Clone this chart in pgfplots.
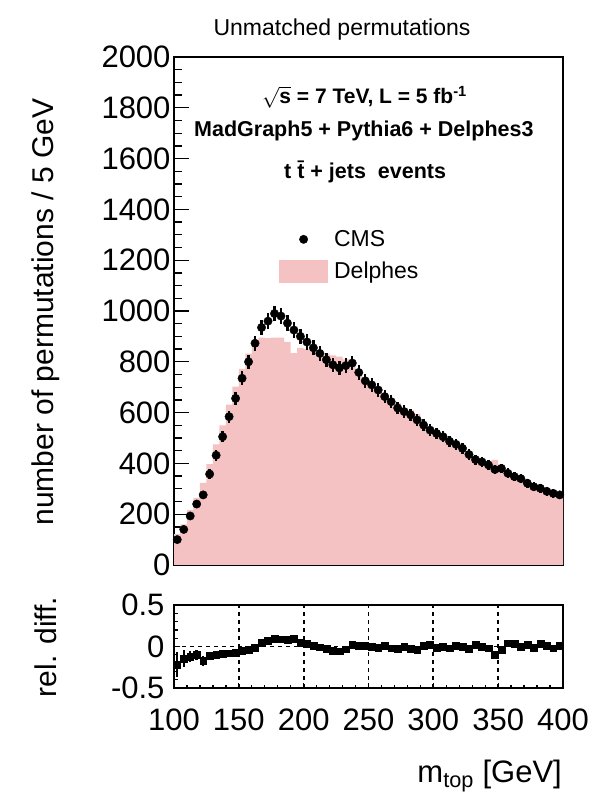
\documentclass[border=0pt]{standalone}
\usepackage{fontspec}
\setmainfont{Liberation Sans}
\usepackage{pgfplots}
\pgfplotsset{compat=1.18}
\usepackage{pgfplotstable}
\definecolor{delphes}{RGB}{244,194,194}

\pgfplotstableread{
x cms err
102.5 100 10
107.5 140 12
112.5 193 14
117.5 240 15
122.5 276 17
127.5 358 19
132.5 432 21
137.5 505 22
142.5 584 24
147.5 656 26
152.5 735 27
157.5 800 28
162.5 873 30
167.5 935 31
172.5 960 31
177.5 990 31
182.5 980 31
187.5 952 31
192.5 925 30
197.5 900 30
202.5 878 30
207.5 855 29
212.5 833 29
217.5 808 28
222.5 788 28
227.5 776 28
232.5 785 28
237.5 795 28
242.5 758 28
247.5 725 27
252.5 709 27
257.5 689 26
262.5 663 26
267.5 643 25
272.5 618 25
277.5 604 25
282.5 591 24
287.5 571 24
292.5 551 23
297.5 531 23
302.5 518 23
307.5 505 22
312.5 487 22
317.5 475 22
322.5 459 21
327.5 435 21
332.5 415 20
337.5 406 20
342.5 394 20
347.5 376 19
352.5 380 19
357.5 361 19
362.5 348 19
367.5 340 18
372.5 322 18
377.5 308 18
382.5 302 17
387.5 290 17
392.5 282 17
397.5 276 17
}\cmsdata

\pgfplotstableread{
x d
100 122
105 160
110 216
115 264
120 323
125 397
130 475
135 550
140 631
145 702
150 772
155 832
160 882
165 895
170 893
175 895
180 895
185 878
190 834
195 855
200 850
205 845
210 840
215 832
220 825
225 820
230 810
235 780
240 750
245 718
250 709
255 696
260 656
265 656
270 637
275 604
280 609
285 594
290 545
295 520
300 523
305 505
310 497
315 470
320 459
325 448
330 407
335 406
340 402
345 414
350 395
355 347
360 338
365 340
370 316
375 314
380 293
385 287
390 288
395 273
400 273
}\delphesdata

\pgfplotstableread{
x r e
102.5 -0.22 0.15
107.5 -0.143 0.10
112.5 -0.119 0.07
117.5 -0.10 0.06
122.5 -0.17 0.06
127.5 -0.109 0.045
132.5 -0.10 0.045
137.5 -0.089 0.045
142.5 -0.08 0.04
147.5 -0.07 0.04
152.5 -0.05 0.03
157.5 -0.04 0.03
162.5 -0.01 0.03
167.5 0.043 0.03
172.5 0.07 0.03
177.5 0.096 0.03
182.5 0.087 0.03
187.5 0.078 0.03
192.5 0.098 0.03
197.5 0.05 0.03
202.5 0.032 0.03
207.5 0.012 0.03
212.5 -0.008 0.03
217.5 -0.03 0.03
222.5 -0.047 0.03
227.5 -0.057 0.03
232.5 -0.032 0.03
237.5 0.019 0.03
242.5 0.011 0.03
247.5 0.01 0.03
252.5 0.0 0.03
257.5 -0.01 0.035
262.5 0.011 0.035
267.5 -0.02 0.035
272.5 -0.031 0.035
277.5 0.0 0.035
282.5 -0.03 0.035
287.5 -0.04 0.035
292.5 0.011 0.035
297.5 0.021 0.035
302.5 -0.01 0.035
307.5 0.0 0.035
312.5 -0.02 0.035
317.5 0.011 0.035
322.5 0.0 0.035
327.5 -0.03 0.035
332.5 0.019 0.035
337.5 0.0 0.035
342.5 -0.02 0.035
347.5 -0.10 0.035
352.5 -0.04 0.035
357.5 0.039 0.035
362.5 0.029 0.035
367.5 0.0 0.035
372.5 0.019 0.035
377.5 -0.019 0.035
382.5 0.03 0.035
387.5 0.01 0.035
392.5 -0.021 0.035
397.5 0.011 0.035
}\reldata

\pgfplotsset{
  common/.style={
    scale only axis,
    width=389bp,
    xmin=100, xmax=400,
    axis line style={line width=1.6bp},
    tick align=inside,
    xtick pos=bottom,
    ytick pos=left,
    every tick/.style={black, line width=1.3bp},
    /pgf/number format/assume math mode=true,
    /pgf/number format/1000 sep={},
    ticklabel style={font=\fontsize{31bp}{31bp}\selectfont},
    xtick={100,150,...,400},
    minor x tick num=4,
  }
}

\begin{document}
\begin{tikzpicture}
\path[use as bounding box] (0bp,0bp) rectangle (592bp,795bp);

\begin{axis}[common,
  at={(174bp,230bp)}, anchor=south west,
  height=508bp,
  ymin=0, ymax=2000,
  ytick={0,200,...,2000},
  minor y tick num=3,
  xticklabels={},
  major tick length=15bp,
  minor tick length=8bp,
  xtick style={/pgfplots/major tick length=11bp, /pgfplots/minor tick length=4bp},
  reverse legend,
  legend cell align=left,
  legend style={at={(0.262,0.668)}, anchor=north west, draw=none, fill=none,
    font=\fontsize{23bp}{23bp}\selectfont, row sep=9bp, column sep=4bp,
    nodes={inner sep=2bp}},
]
\addplot[fill=delphes, draw=none, const plot,
  legend image code/.code={\fill[delphes] (0bp,-11.5bp) rectangle (49bp,11.5bp);}]
  table[x=x, y=d]{\delphesdata} \closedcycle;
\addlegendentry{Delphes}
\addplot[only marks, mark=*, mark size=4.2bp, black,
  legend image code/.code={\path[draw=none,fill=none] (0bp,-11.5bp) rectangle (49bp,11.5bp); \fill[black] (24.5bp,0bp) circle (4.2bp);},
  error bars/.cd, y dir=both, y explicit, x dir=both, x fixed=2.5,
  error bar style={line width=2.4bp, black}, error mark=none]
  table[x=x, y=cms, y error=err]{\cmsdata};
\addlegendentry{CMS}
\end{axis}

\begin{axis}[common,
  at={(174bp,107bp)}, anchor=south west,
  height=83bp,
  ymin=-0.5, ymax=0.5,
  ytick={-0.5,0,0.5},
  yticklabels={-0.5,0,0.5},
  minor y tick num=4,
  major tick length=6bp,
  minor tick length=4bp,
  xtick style={/pgfplots/major tick length=5bp, /pgfplots/minor tick length=3bp},
  yticklabel style={xshift=-6bp},
  xticklabel style={yshift=-17bp},
]
\foreach \v in {150,200,250,300,350}{
  \edef\tmp{\noexpand\draw[black, line width=1.8bp, dash pattern=on 4bp off 4bp] (axis cs:\v,-0.5) -- (axis cs:\v,0.5);}\tmp
}
\draw[black, line width=1.6bp, dash pattern=on 4bp off 4bp] (axis cs:100,0) -- (axis cs:400,0);
\addplot[only marks, mark=square*, mark size=3.4bp, black,
  error bars/.cd, y dir=both, y explicit, x dir=both, x fixed=2.5,
  error bar style={line width=2.4bp, black}, error mark=none]
  table[x=x, y=r, y error=e]{\reldata};
\end{axis}

% texts
\node[anchor=base, font=\fontsize{23bp}{23bp}\selectfont] at (342bp,759bp) {Unmatched permutations};
\node[rotate=90, font=\fontsize{30bp}{30bp}\selectfont] at (46bp,483bp) {number of permutations / 5 GeV};
\node[rotate=90, font=\fontsize{30bp}{30bp}\selectfont] at (46bp,148bp) {rel. diff.};
\node[anchor=base east, font=\fontsize{31bp}{31bp}\selectfont, inner sep=0pt] at (562bp,13bp) {m\textsubscript{top} [GeV]};

\node[anchor=west, font=\bfseries\fontsize{21bp}{21bp}\selectfont, inner sep=0pt] at (262bp,698bp) {$\sqrt{\mbox{\bfseries s}}$\ =\ 7 TeV,\ L\ =\ 5 fb\textsuperscript{-1}};
\node[anchor=west, font=\bfseries\fontsize{21.5bp}{21.5bp}\selectfont, inner sep=0pt] at (194bp,664bp) {MadGraph5 + Pythia6 + Delphes3};
\node[anchor=west, font=\bfseries\fontsize{21.5bp}{21.5bp}\selectfont, inner sep=0pt] at (284bp,623bp) {t\ \={t} + jets\ \ events};
\end{tikzpicture}
\end{document}
